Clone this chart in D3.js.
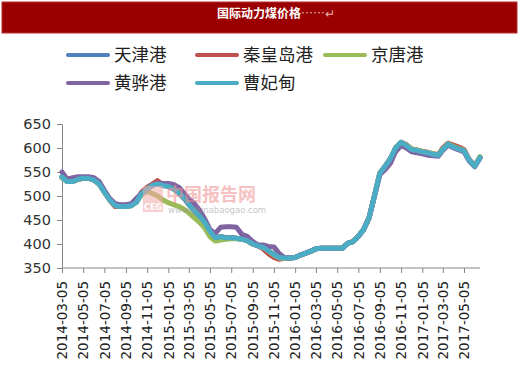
<!DOCTYPE html>
<html lang="zh">
<head>
<meta charset="UTF-8">
<title>国际动力煤价格</title>
<script src="https://d3js.org/d3.v7.min.js"></script>
<style>
  body { margin: 0; background: #fff; }
  svg text { font-family: "DejaVu Sans", sans-serif; }
  .legend text { font-family: "Noto Sans CJK SC", sans-serif; font-size: 17.5px; fill: #222; }
</style>
</head>
<body>
<svg id="chart" width="520" height="365"></svg>
<script>
// semi-monthly samples from 2014-03-05
const startDate = new Date(2014, 2, 5);
const dates = d3.range(80).map(i => {
  const d = d3.timeMonth.offset(startDate, Math.floor(i / 2));
  return i % 2 ? d3.timeDay.offset(d, 15) : d;
});

const seriesNames = ['天津港', '秦皇岛港', '京唐港', '黄骅港', '曹妃甸'];
const colors = ['#4f81bd', '#c0504d', '#9bbb59', '#8064a2', '#4bacc6'];

const tianjin = [538,530,530,535,537,537,533,525,508,492,480,478,478,480,487,505,515,522,526,522,520,515,506,495,482,470,458,445,426,413,415,413,413,412,410,407,400,396,393,386,377,371,370,371,372,377,381,385,390,391,391,391,391,391,402,405,416,430,455,500,548,562,578,600,612,605,597,595,592,590,587,585,597,608,602,598,594,575,562,580];
const qinhuangdao = [540,530,530,535,537,537,533,525,508,492,478,478,478,480,490,508,518,525,532,524,520,515,506,495,482,470,458,445,426,413,415,413,413,412,410,407,400,396,390,380,372,368,370,371,372,377,381,385,390,391,391,391,391,391,402,405,416,430,455,500,548,562,578,600,612,607,598,596,593,591,588,586,600,610,606,602,597,576,563,581];
const jingtang = [538,530,530,535,537,537,533,525,508,492,480,478,478,479,487,503,510,505,500,492,486,482,478,472,465,455,445,433,415,406,408,410,411,411,410,407,400,396,393,386,377,371,370,371,372,377,381,385,390,391,391,391,391,391,402,405,416,430,455,500,548,562,578,600,612,606,598,596,593,590,588,586,598,609,603,599,595,575,562,582];
const huanghua = [550,535,538,540,540,540,538,530,512,495,484,482,482,484,495,505,515,522,526,526,526,524,518,505,494,485,470,452,430,422,435,436,436,435,420,416,405,398,398,395,394,380,372,371,372,377,381,386,390,391,391,391,391,391,402,405,416,430,455,498,545,555,568,592,605,600,592,590,588,585,584,583,595,606,600,596,592,573,561,579];
const caofeidian = [540,530,530,535,537,537,533,525,508,492,480,478,478,480,487,505,515,522,525,522,520,515,506,495,482,470,458,445,426,413,415,413,413,412,410,407,400,396,393,386,378,372,371,371,372,377,381,385,390,391,391,391,391,391,402,405,416,430,455,500,548,562,578,600,612,605,597,595,592,590,587,585,597,608,602,598,594,575,562,580];
const seriesValues = [tianjin, qinhuangdao, jingtang, huanghua, caofeidian];

const yTicks = [350, 400, 450, 500, 550, 600, 650];
const xTickLabels = ['2014-03-05','2014-05-05','2014-07-05','2014-09-05','2014-11-05',
  '2015-01-05','2015-03-05','2015-05-05','2015-07-05','2015-09-05','2015-11-05',
  '2016-01-05','2016-03-05','2016-05-05','2016-07-05','2016-09-05','2016-11-05',
  '2017-01-05','2017-03-05','2017-05-05'];

const svg = d3.select('#chart');
const parse = d3.timeParse('%Y-%m-%d');

// title bar
svg.append('rect')
  .attr('x', 2).attr('y', 2).attr('width', 515).attr('height', 31)
  .attr('fill', '#9a0000').attr('stroke', '#b53030').attr('stroke-width', 1);
svg.append('text')
  .attr('x', 217).attr('y', 18)
  .style('font-family', '"Noto Sans CJK SC", sans-serif')
  .style('font-size', '12px').style('font-weight', 'bold')
  .attr('fill', '#fff')
  .text('国际动力煤价格')
  .append('tspan').style('font-weight', 'normal').attr('fill', '#e8b0b0').text('……↵');

const x = d3.scaleTime()
  .domain([parse('2014-03-05'), parse('2017-05-05')])
  .range([62, 464]);
const y = d3.scaleLinear().domain([350, 650]).range([268, 124]);

// y axis
const yAxis = svg.append('g')
  .attr('transform', 'translate(62,0)')
  .call(d3.axisLeft(y).tickValues(yTicks).tickSize(5).tickPadding(6));
yAxis.select('.domain').attr('stroke', '#868686');
yAxis.selectAll('.tick line').attr('stroke', '#868686');
yAxis.selectAll('text').style('font-size', '14.5px').attr('fill', '#333');

// x axis
const xAxis = svg.append('g')
  .attr('transform', 'translate(0,268)')
  .call(d3.axisBottom(x).tickValues(xTickLabels.map(parse)).tickSize(5)
    .tickFormat(d3.timeFormat('%Y-%m-%d')));
xAxis.select('.domain').attr('d', 'M62,0H' + x(dates[dates.length - 1])).attr('stroke', '#868686');
xAxis.selectAll('.tick line').attr('stroke', '#868686');
xAxis.selectAll('text')
  .style('font-size', '13.5px').attr('fill', '#222')
  .attr('text-anchor', 'end')
  .attr('transform', 'rotate(-90)')
  .attr('x', -13).attr('y', 0).attr('dy', '0.35em');

// lines
const line = d3.line()
  .x((d, i) => x(dates[i]))
  .y(d => y(d));
seriesValues.forEach((vals, k) => {
  svg.append('path')
    .datum(vals)
    .attr('fill', 'none')
    .attr('stroke', colors[k])
    .attr('stroke-width', 5)
    .attr('stroke-linejoin', 'round')
    .attr('stroke-linecap', 'round')
    .attr('d', line);
});

// watermark
const wm = svg.append('g').attr('opacity', 0.55);
wm.append('rect').attr('x', 143).attr('y', 186).attr('width', 20).attr('height', 26)
  .attr('fill', '#f3a8a8');
wm.append('text').attr('x', 153).attr('y', 210).attr('text-anchor', 'middle')
  .style('font-size', '8px').style('font-weight', 'bold').attr('fill', '#fff').text('CEG');
wm.append('text').attr('x', 166).attr('y', 201)
  .style('font-family', '"Noto Sans CJK SC", sans-serif')
  .style('font-size', '18px').style('font-weight', 'bold')
  .attr('fill', '#ee8f8f').text('中国报告网');
wm.append('text').attr('x', 168).attr('y', 213)
  .style('font-size', '8.5px').attr('fill', '#999').text('www.chinabaogao.com');

// legend
const legendPos = [[68, 55], [197, 55], [325, 55], [68, 83], [197, 83]];
const legend = svg.append('g').attr('class', 'legend');
seriesNames.forEach((name, k) => {
  const [lx, ly] = legendPos[k];
  legend.append('line')
    .attr('x1', lx).attr('x2', lx + 40).attr('y1', ly).attr('y2', ly)
    .attr('stroke', colors[k]).attr('stroke-width', 4).attr('stroke-linecap', 'round');
  legend.append('text')
    .attr('x', lx + 46).attr('y', ly).attr('dy', '0.36em')
    .text(name);
});
</script>
</body>
</html>
